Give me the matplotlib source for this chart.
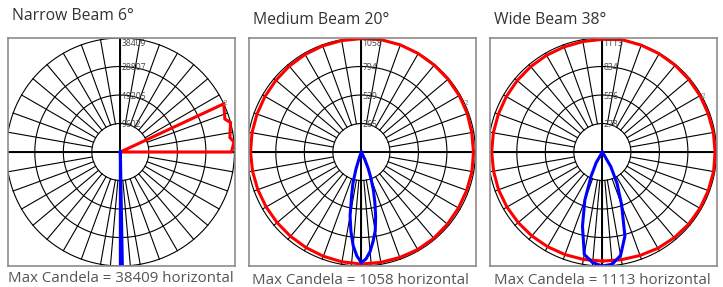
import numpy as np
import matplotlib
matplotlib.use('Agg')
from matplotlib import pyplot as plt

plt.rcParams['font.family'] = ['Open Sans', 'DejaVu Sans']

titles = ['Narrow Beam 6°', 'Medium Beam 20°', 'Wide Beam 38°']
max_cd = [38409, 1058, 1113]
ring_labels = [['9602', '19205', '28807', '38409'],
               ['265', '529', '794', '1058'],
               ['278', '556', '834', '1113']]
captions = ['Max Candela = 38409 horizontal',
            'Max Candela = 1058 horizontal',
            'Max Candela = 1113 horizontal']

# gamma angles in degrees (0 = nadir, 90 = horizontal right)
narrow_red_gamma = [85, 90, 95, 97.5, 105, 107.5, 115, 120]
narrow_red_cd = [0, 37400, 38409, 37200, 38400, 36900, 38409, 0]
narrow_blue_gamma = [-1, 0, 1, 2]
narrow_blue_cd = [0, 38409, 38200, 0]

ring_gamma = list(range(0, 361, 10))
medium_red_cd = [1040, 1040, 1042, 1045, 1045, 1042, 1040, 1040, 1042, 1040,
                 1040, 1045, 1048, 1050, 1052, 1055, 1058, 1058, 1052, 1050,
                 1048, 1045, 1040, 1035, 1032, 1030, 1030, 1028, 1025, 1022,
                 1020, 1020, 1022, 1025, 1030, 1035, 1040]
medium_blue_gamma = [-22.5, -20, -17.5, -15, -12.5, -10, -7.5, -5, -2.5, 0,
                     2.5, 5, 7.5, 10, 12.5, 15, 17.5, 20, 22.5, 25, 27.5]
medium_blue_cd = [0, 46, 167, 306, 418, 603, 742, 872, 965, 1026,
                  993, 928, 835, 742, 613, 483, 371, 260, 167, 74, 0]

wide_red_cd = [1065, 1068, 1075, 1085, 1092, 1098, 1100, 1100, 1102, 1100,
               1100, 1098, 1100, 1102, 1105, 1108, 1110, 1113, 1100, 1095,
               1092, 1090, 1088, 1085, 1082, 1080, 1080, 1080, 1078, 1078,
               1075, 1072, 1070, 1068, 1066, 1065, 1065]
wide_blue_gamma = [-35, -30, -25, -20, -15, -10, -5, 0, 5, 10, 15, 20, 25, 30, 35]
wide_blue_cd = [0, 120, 260, 500, 750, 1015, 1085, 1113, 1100, 1025, 850, 550, 340, 165, 0]

curves = [
    [(narrow_red_gamma, narrow_red_cd), (narrow_blue_gamma, narrow_blue_cd)],
    [(ring_gamma, medium_red_cd), (medium_blue_gamma, medium_blue_cd)],
    [(ring_gamma, wide_red_cd), (wide_blue_gamma, wide_blue_cd)],
]
label2_gamma = [115, 115, 119]


def xy(gamma, cd, cmax):
    g = np.radians(np.asarray(gamma, dtype=float))
    r = np.asarray(cd, dtype=float) / cmax
    return r * np.sin(g), -r * np.cos(g)


W, H = 723, 287
fig = plt.figure(figsize=(W / 100, H / 100), dpi=100, facecolor='white')

box_left = [8, 249, 490]
title_y = [16, 20, 20]
cap_x = [8, 252, 494]
cap_y = [278, 281, 281]

spokes = list(range(0, 360, 10)) + [5, 355]
t = np.linspace(0, 2 * np.pi, 400)

for i in range(3):
    ax = fig.add_axes([box_left[i] / W, (H - 266) / H, 227 / W, 228 / H])
    ax.set_xlim(-0.985, 1.005)
    ax.set_ylim(-1.0, 1.0)
    ax.set_xticks([])
    ax.set_yticks([])
    for s in ax.spines.values():
        s.set_color('#8c8c8c')
        s.set_linewidth(1.2)

    for k in range(1, 5):
        ax.plot(k / 4 * np.cos(t), k / 4 * np.sin(t), color='black', lw=0.8)
    for g in spokes:
        a = np.radians(g)
        ax.plot([0.25 * np.sin(a), np.sin(a)], [-0.25 * np.cos(a), -np.cos(a)],
                color='black', lw=0.8)
    ax.axhline(0, color='black', lw=1.4)
    ax.axvline(0, color='black', lw=1.4)

    for k, lab in enumerate(ring_labels[i]):
        r = (k + 1) / 4
        if k == 3:
            ax.text(0.01, 0.995, lab, fontsize=6.2, color='#444444', va='top', ha='left')
        else:
            ax.text(0.01, r - 0.01, lab, fontsize=6.2, color='#444444', va='center', ha='left')

    (rg, rc), (bg, bc) = curves[i]
    x, y = xy(rg, rc, max_cd[i])
    ax.plot(x, y, color='#ff0000', lw=2.2, solid_joinstyle='miter')
    x, y = xy(bg, bc, max_cd[i])
    ax.plot(x, y, color='#0000ff', lw=2.2, solid_joinstyle='miter')

    a = np.radians(label2_gamma[i])
    ax.text(1.01 * np.sin(a), -1.01 * np.cos(a), '2', fontsize=6, color='#777777',
            va='center', ha='center')

    fig.text(box_left[i] / W + 4 / W, 1 - title_y[i] / H, titles[i], fontsize=11.3,
             color='#333333', va='center', ha='left')
    fig.text(cap_x[i] / W, 1 - cap_y[i] / H, captions[i], fontsize=10.8,
             color='#555555', va='center', ha='left')

fig.savefig('out.png', dpi=100, facecolor='white')
